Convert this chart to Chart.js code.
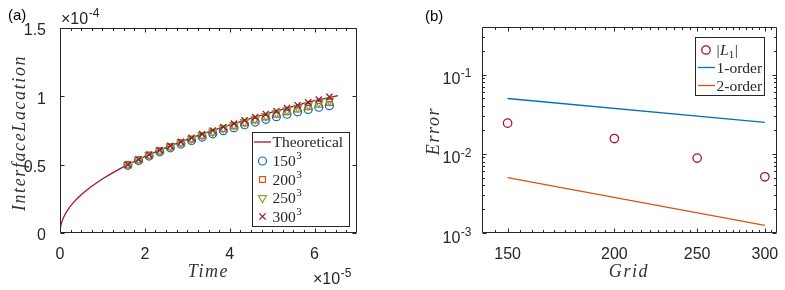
<!DOCTYPE html>
<html>
<head>
<meta charset="utf-8">
<script src="https://cdn.jsdelivr.net/npm/chart.js@4.4.0/dist/chart.umd.min.js"></script>
<style>
  html, body { margin: 0; padding: 0; background: #fff; }
  #wrap { position: relative; width: 785px; height: 290px; overflow: hidden; }
  #chartA { position: absolute; left: 0; top: 0; }
  #chartB { position: absolute; left: 392px; top: 0; }
</style>
</head>
<body>
<div id="wrap">
  <canvas id="chartA" width="392" height="290"></canvas>
  <canvas id="chartB" width="393" height="290"></canvas>
</div>
<script>
// ── data: panel (a), time in 1e-5, location in 1e-4 ──────────────────────────
const TIME_THEORY = [0, 0.005, 0.02, 0.05, 0.1, 0.2, 0.3, 0.5, 0.75, 1, 1.25, 1.6, 2, 2.5, 3, 3.5, 4, 4.5, 5, 5.5, 6, 6.55];
const LOC_THEORY  = [0, 0.028, 0.056, 0.088, 0.125, 0.177, 0.217, 0.280, 0.342, 0.395, 0.442, 0.500, 0.559, 0.625, 0.685, 0.740, 0.791, 0.839, 0.884, 0.927, 0.968, 1.005];

const TIME_SIM = [1.6, 1.85, 2.1, 2.35, 2.6, 2.85, 3.1, 3.35, 3.6, 3.85, 4.1, 4.35, 4.6, 4.85, 5.1, 5.35, 5.6, 5.85, 6.1, 6.35];
const LOC_150 = [0.495, 0.530, 0.563, 0.594, 0.623, 0.651, 0.677, 0.702, 0.726, 0.749, 0.771, 0.792, 0.812, 0.832, 0.851, 0.869, 0.887, 0.904, 0.920, 0.932];
const LOC_200 = [0.498, 0.534, 0.568, 0.600, 0.630, 0.659, 0.686, 0.712, 0.737, 0.761, 0.784, 0.806, 0.828, 0.849, 0.869, 0.888, 0.907, 0.925, 0.942, 0.955];
const LOC_250 = [0.499, 0.536, 0.570, 0.603, 0.633, 0.662, 0.690, 0.717, 0.742, 0.767, 0.790, 0.813, 0.835, 0.857, 0.878, 0.898, 0.917, 0.936, 0.954, 0.968];
const LOC_300 = [0.500, 0.538, 0.573, 0.606, 0.637, 0.667, 0.696, 0.723, 0.750, 0.776, 0.800, 0.824, 0.848, 0.871, 0.893, 0.914, 0.935, 0.956, 0.976, 0.996];
const SERIES_A = ['Theoretical', '150', '200', '250', '300'];

const X_TICKS_A  = [0, 2, 4, 6];
const X_LABELS_A = ['0', '2', '4', '6'];
const X_MINOR_A  = [0.25, 0.5, 0.75, 1, 1.25, 1.5, 1.75, 2.25, 2.5, 2.75, 3, 3.25, 3.5, 3.75, 4.25, 4.5, 4.75, 5, 5.25, 5.5, 5.75, 6.25, 6.5, 6.75];
const Y_TICKS_A  = [0, 0.5, 1, 1.5];
const Y_LABELS_A = ['0', '0.5', '1', '1.5'];

// ── data: panel (b) ──────────────────────────────────────────────────────────
const GRID = [150, 200, 250, 300];
const ERR_L1 = [0.0244, 0.0156, 0.00883, 0.00513];
const GRID_REF = [150, 300];
const ORDER1 = [0.05, 0.025];
const ORDER2 = [0.005, 0.00125];

const X_TICKS_B  = [150, 200, 250, 300];
const X_LABELS_B = ['150', '200', '250', '300'];
const X_MINOR_B  = [145, 155, 160, 165, 170, 175, 180, 185, 190, 195, 205, 210, 215, 220, 225, 230, 235, 240, 245, 255, 260, 265, 270, 275, 280, 285, 290, 295, 305];
const Y_TICKS_B  = [0.001, 0.01, 0.1];
const Y_EXP_B    = ['-3', '-2', '-1'];
const Y_MINOR_B  = [0.002, 0.003, 0.004, 0.005, 0.006, 0.007, 0.008, 0.009, 0.02, 0.03, 0.04, 0.05, 0.06, 0.07, 0.08, 0.09, 0.2, 0.3];

// ── styles ───────────────────────────────────────────────────────────────────
const AX = '#262626';
const RED = '#A2142F', BLUE = '#0072BD', ORANGE = '#D95319', GREEN = '#77AC30';
const SANS = "'Liberation Sans', Arial, sans-serif";
const SERIF = "'Liberation Serif', 'Times New Roman', serif";
const NONE = 'rgba(0,0,0,0)';

const zip = (xs, ys) => xs.map((x, i) => ({ x, y: ys[i] }));

// base text with a raised exponent, y = baseline
function supText(ctx, base, exp, x, y, size, family, align) {
  const bf = `${size}px ${family}`, ef = `${Math.round(size * 0.72)}px ${family}`;
  ctx.font = bf; const bw = ctx.measureText(base).width;
  ctx.font = ef; const ew = ctx.measureText(exp).width;
  const x0 = align === 'right' ? x - bw - ew : align === 'center' ? x - (bw + ew) / 2 : x;
  ctx.textAlign = 'left'; ctx.textBaseline = 'alphabetic';
  ctx.font = bf; ctx.fillText(base, x0, y);
  ctx.font = ef; ctx.fillText(exp, x0 + bw + 0.5, y - size * 0.42);
}

function mathText(ctx, str, x, y, size, rotate) {
  ctx.save();
  ctx.translate(x, y);
  if (rotate) ctx.rotate(-Math.PI / 2);
  ctx.font = `italic ${size}px ${SERIF}`;
  ctx.letterSpacing = '1.6px';
  ctx.textAlign = 'center'; ctx.textBaseline = 'alphabetic';
  ctx.fillStyle = '#333';
  ctx.fillText(str, 0, 0);
  ctx.restore();
}

// ── box + inward ticks on all four sides ─────────────────────────────────────
const matlabAxes = {
  id: 'matlabAxes',
  afterDatasetsDraw(chart, args, o) {
    const { ctx, chartArea: a } = chart;
    const xs = chart.scales.x, ys = chart.scales.y;
    const L = Math.round(a.left) + 0.5, R = Math.round(a.right) - 0.5;
    const T = Math.round(a.top) + 0.5, B = Math.round(a.bottom) - 0.5;
    ctx.save();
    ctx.strokeStyle = AX; ctx.lineWidth = 1;
    ctx.beginPath();
    const xt = (vals, len) => vals.forEach(v => {
      const p = Math.round(xs.getPixelForValue(v)) + 0.5;
      ctx.moveTo(p, B); ctx.lineTo(p, B - len);
      ctx.moveTo(p, T); ctx.lineTo(p, T + len);
    });
    const yt = (vals, len) => vals.forEach(v => {
      const p = Math.round(ys.getPixelForValue(v)) + 0.5;
      ctx.moveTo(L, p); ctx.lineTo(L + len, p);
      ctx.moveTo(R, p); ctx.lineTo(R - len, p);
    });
    xt(o.xMajor, 4); xt(o.xMinor, 2.5);
    yt(o.yMajor, 4); yt(o.yMinor, 2.5);
    ctx.rect(L, T, R - L, B - T);
    ctx.stroke();
    ctx.restore();
  }
};

// ── panel (a) texts and legend ───────────────────────────────────────────────
const decorA = {
  id: 'decorA',
  afterDraw(chart) {
    const ctx = chart.ctx;
    ctx.save();
    ctx.fillStyle = '#000';
    ctx.font = `15px ${SANS}`; ctx.textAlign = 'left'; ctx.textBaseline = 'alphabetic';
    ctx.fillText('(a)', 8, 20);
    ctx.fillStyle = AX;
    supText(ctx, '\u00d710', '-4', 61, 24, 16, SANS, 'left');
    supText(ctx, '\u00d710', '-5', 313, 284, 16, SANS, 'left');
    mathText(ctx, 'Time', 208.5, 277, 18, false);
    mathText(ctx, 'InterfaceLacation', 25, 133, 18, true);

    // legend
    ctx.fillStyle = '#fff'; ctx.fillRect(252.5, 132.5, 97, 94);
    ctx.strokeStyle = AX; ctx.lineWidth = 1; ctx.strokeRect(252.5, 132.5, 97, 94);
    const rows = [142, 161, 179.5, 198, 216.5];
    chart.data.datasets.forEach((ds, i) => {
      const y = rows[i];
      ctx.strokeStyle = ds.borderColor; ctx.fillStyle = NONE;
      if (ds.showLine) {
        ctx.lineWidth = ds.borderWidth;
        ctx.beginPath(); ctx.moveTo(254, y); ctx.lineTo(271, y); ctx.stroke();
      } else {
        ctx.lineWidth = ds.pointBorderWidth;
        Chart.helpers.drawPoint(ctx, { pointStyle: ds.pointStyle, rotation: ds.pointRotation || 0, radius: ds.pointRadius, borderWidth: ds.pointBorderWidth }, 262.5, y);
      }
      ctx.fillStyle = AX;
      if (i === 0) {
        ctx.font = `15.5px ${SERIF}`; ctx.textAlign = 'left'; ctx.textBaseline = 'alphabetic';
        ctx.fillText(ds.label, 272.5, y + 5);
      } else {
        supText(ctx, ds.label, '3', 272.5, y + 5, 15.5, SERIF, 'left');
      }
    });
    ctx.restore();
  }
};

// ── panel (b) texts and legend ───────────────────────────────────────────────
const decorB = {
  id: 'decorB',
  afterDraw(chart) {
    const ctx = chart.ctx;
    const ys = chart.scales.y;
    const ox = 392; // canvas offset in page
    ctx.save();
    ctx.fillStyle = '#000';
    ctx.font = `15px ${SANS}`; ctx.textAlign = 'left'; ctx.textBaseline = 'alphabetic';
    ctx.fillText('(b)', 425 - ox, 21);
    ctx.fillStyle = AX;
    Y_TICKS_B.forEach((v, i) => {
      const p = ys.getPixelForValue(v);
      supText(ctx, '10', Y_EXP_B[i], 471 - ox, p + 9.5, 16, SANS, 'right');
    });
    mathText(ctx, 'Grid', 629 - ox, 277, 18, false);
    mathText(ctx, 'Error', 439 - ox, 131, 18, true);

    // legend
    const bx = 695.5 - ox, by = 37.5;
    ctx.fillStyle = '#fff'; ctx.fillRect(bx, by, 69, 58);
    ctx.strokeStyle = AX; ctx.lineWidth = 1; ctx.strokeRect(bx, by, 69, 58);
    const rows = [50, 67.5, 85.5];
    chart.data.datasets.forEach((ds, i) => {
      const y = rows[i];
      ctx.strokeStyle = ds.borderColor; ctx.fillStyle = NONE;
      if (ds.showLine) {
        ctx.lineWidth = ds.borderWidth;
        ctx.beginPath(); ctx.moveTo(698 - ox, y); ctx.lineTo(715 - ox, y); ctx.stroke();
      } else {
        ctx.lineWidth = ds.pointBorderWidth;
        Chart.helpers.drawPoint(ctx, { pointStyle: ds.pointStyle, radius: ds.pointRadius, borderWidth: ds.pointBorderWidth }, 706 - ox, y);
      }
      ctx.fillStyle = AX; ctx.textAlign = 'left'; ctx.textBaseline = 'alphabetic';
      const tx = 716.5 - ox;
      if (i === 0) {
        ctx.font = `15.5px ${SERIF}`;
        ctx.fillText('|', tx, y + 5);
        let w = ctx.measureText('|').width;
        ctx.font = `italic 15.5px ${SERIF}`;
        ctx.fillText('L', tx + w + 0.5, y + 5);
        w += ctx.measureText('L').width + 0.5;
        ctx.font = `11px ${SERIF}`;
        ctx.fillText('1', tx + w, y + 8);
        w += ctx.measureText('1').width + 0.5;
        ctx.font = `15.5px ${SERIF}`;
        ctx.fillText('|', tx + w, y + 5);
      } else {
        ctx.font = `15.5px ${SERIF}`;
        ctx.fillText(ds.label, tx, y + 5);
      }
    });
    ctx.restore();
  }
};

const tickFont = { family: SANS, size: 16 };

// ── chart (a) ────────────────────────────────────────────────────────────────
new Chart(document.getElementById('chartA'), {
  type: 'scatter',
  data: {
    datasets: [
      { label: SERIES_A[0], data: zip(TIME_THEORY, LOC_THEORY), showLine: true, borderColor: RED, borderWidth: 1.3,
        pointRadius: 0, cubicInterpolationMode: 'monotone', order: 5 },
      { label: SERIES_A[1], data: zip(TIME_SIM, LOC_150), pointStyle: 'circle', pointRadius: 4, pointBorderWidth: 1.2,
        borderColor: BLUE, backgroundColor: NONE, order: 4 },
      { label: SERIES_A[2], data: zip(TIME_SIM, LOC_200), pointStyle: 'rect', pointRadius: 4.2, pointBorderWidth: 1.2,
        borderColor: ORANGE, backgroundColor: NONE, order: 3 },
      { label: SERIES_A[3], data: zip(TIME_SIM, LOC_250), pointStyle: 'triangle', pointRotation: 180, pointRadius: 4.6, pointBorderWidth: 1.2,
        borderColor: GREEN, backgroundColor: NONE, order: 2 },
      { label: SERIES_A[4], data: zip(TIME_SIM, LOC_300), pointStyle: 'crossRot', pointRadius: 4.4, pointBorderWidth: 1.3,
        borderColor: RED, backgroundColor: NONE, order: 1 }
    ]
  },
  options: {
    responsive: false,
    animation: false,
    events: [],
    layout: { padding: { left: 0, top: 28, right: 35, bottom: 0 } },
    plugins: {
      legend: { display: false },
      tooltip: { enabled: false },
      matlabAxes: { xMajor: X_TICKS_A, xMinor: X_MINOR_A, yMajor: Y_TICKS_A, yMinor: [] }
    },
    scales: {
      x: {
        type: 'linear', min: 0, max: 7,
        grid: { display: false }, border: { display: false },
        afterBuildTicks: s => { s.ticks = X_TICKS_A.map(value => ({ value })); },
        ticks: { callback: (v, i) => X_LABELS_A[i], font: tickFont, color: AX, padding: 4, maxRotation: 0, autoSkip: false },
        afterFit: s => { s.height = 57; }
      },
      y: {
        type: 'linear', min: 0, max: 1.5,
        grid: { display: false }, border: { display: false },
        afterBuildTicks: s => { s.ticks = Y_TICKS_A.map(value => ({ value })); },
        ticks: { callback: (v, i) => Y_LABELS_A[i], font: tickFont, color: AX, padding: 6, labelOffset: 3, autoSkip: false },
        afterFit: s => { s.width = 60; }
      }
    }
  },
  plugins: [matlabAxes, decorA]
});

// ── chart (b) ────────────────────────────────────────────────────────────────
new Chart(document.getElementById('chartB'), {
  type: 'scatter',
  data: {
    datasets: [
      { label: '|L1|', data: zip(GRID, ERR_L1), pointStyle: 'circle', pointRadius: 4.2, pointBorderWidth: 1.3,
        borderColor: RED, backgroundColor: NONE, order: 1 },
      { label: '1-order', data: zip(GRID_REF, ORDER1), showLine: true, borderColor: BLUE, borderWidth: 1.3,
        pointRadius: 0, order: 2 },
      { label: '2-order', data: zip(GRID_REF, ORDER2), showLine: true, borderColor: ORANGE, borderWidth: 1.3,
        pointRadius: 0, order: 3 }
    ]
  },
  options: {
    responsive: false,
    animation: false,
    events: [],
    layout: { padding: { left: 0, top: 27, right: 8, bottom: 0 } },
    plugins: {
      legend: { display: false },
      tooltip: { enabled: false },
      matlabAxes: { xMajor: X_TICKS_B, xMinor: X_MINOR_B, yMajor: Y_TICKS_B, yMinor: Y_MINOR_B }
    },
    scales: {
      x: {
        type: 'logarithmic', min: 140, max: 310,
        grid: { display: false }, border: { display: false },
        afterBuildTicks: s => { s.ticks = X_TICKS_B.map(value => ({ value })); },
        ticks: { callback: (v, i) => X_LABELS_B[i], font: tickFont, color: AX, padding: 4, maxRotation: 0, autoSkip: false },
        afterFit: s => { s.height = 57; }
      },
      y: {
        type: 'logarithmic', min: 0.001, max: 0.4,
        grid: { display: false }, border: { display: false },
        afterBuildTicks: s => { s.ticks = Y_TICKS_B.map(value => ({ value })); },
        ticks: { display: false },
        afterFit: s => { s.width = 90; }
      }
    }
  },
  plugins: [matlabAxes, decorB]
});
</script>
</body>
</html>
